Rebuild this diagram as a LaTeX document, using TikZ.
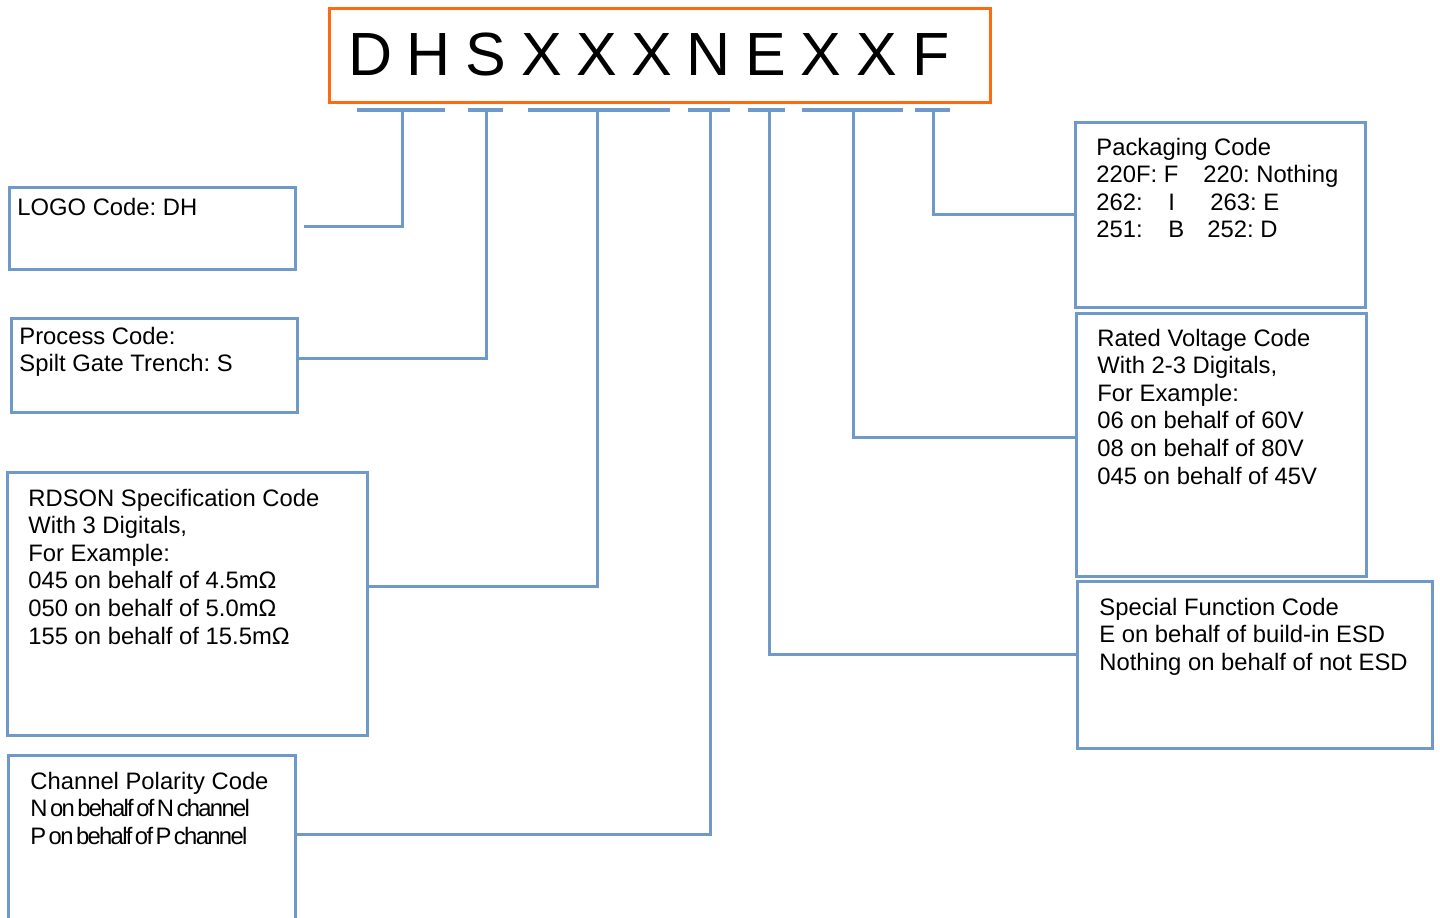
\documentclass[tikz,border=0pt]{standalone}
\usepackage{fontspec}
\setmainfont{Liberation Sans}
\newfontfamily\condfont[LetterSpace=-7,WordSpace=0.5]{Liberation Sans}
\definecolor{lineblue}{RGB}{110,153,200}
\definecolor{codeorange}{RGB}{255,105,15}
\frenchspacing
\begin{document}
\begin{tikzpicture}[x=0.5pt,y=-0.5pt,
  box/.style={draw=lineblue,line width=1.5pt,anchor=north west,inner sep=0pt,fill=none},
  conn/.style={draw=lineblue,line width=1.5pt},
  seg/.style={draw=lineblue,line width=1.6pt},
  txt/.style={anchor=base west,align=left,inner sep=0pt,font=\fontsize{11.9pt}{13.8pt}\selectfont},
  letter/.style={anchor=base,inner sep=0pt,font=\fontsize{30.5pt}{36pt}\selectfont}]
\useasboundingbox (0,0) rectangle (1440,917);

% code box
\node[draw=codeorange,line width=1.5pt,anchor=north west,inner sep=0pt,minimum width=330.5pt,minimum height=47pt] (code) at (328,7) {};
\foreach \ch/\x [count=\i] in {D/371,H/429,S/486,X/542,X/597,X/652,N/709,E/766,X/821,X/877,F/931}
  \node[letter] (L\i) at (\x,75) {\ch};

% segments
\coordinate (s1) at (402,110); \draw[seg] (357,110) -- (445,110);
\coordinate (s2) at (486,110); \draw[seg] (468,110) -- (503,110);
\coordinate (s3) at (597,110); \draw[seg] (528,110) -- (670,110);
\coordinate (s4) at (710,110); \draw[seg] (688,110) -- (730,110);
\coordinate (s5) at (769,110); \draw[seg] (748,110) -- (785,110);
\coordinate (s6) at (853,110); \draw[seg] (802,110) -- (903,110);
\coordinate (s7) at (933,110); \draw[seg] (915,110) -- (950,110);

% boxes
\node[box,minimum width=143pt,minimum height=41pt] (logo) at (8,186) {};
\node[box,minimum width=143pt,minimum height=47pt] (process) at (10,317) {};
\node[box,minimum width=180pt,minimum height=131.5pt] (rdson) at (6,471) {};
\node[box,minimum width=145pt,minimum height=92.5pt] (pack) at (1074,121) {};
\node[box,minimum width=145pt,minimum height=131.5pt] (rated) at (1075,312) {};
\node[box,minimum width=177.5pt,minimum height=83.5pt] (special) at (1076,580) {};
\coordinate (chan) at (295,834);
\draw[conn] (8,920) -- (8,755) -- (295,755) -- (295,920);

% texts (anchor = baseline of the last line)
\node[txt] (tlogo) at (17,215) {LOGO Code: DH};
\node[txt] (tproc) at (19,371.6) {Process Code:\\Spilt Gate Trench: S};
\node[txt] (trds) at (28,644) {RDSON Specification Code\\With 3 Digitals,\\For Example:\\045 on behalf of 4.5mΩ\\050 on behalf of 5.0mΩ\\155 on behalf of 15.5mΩ};
\node[txt] (tchan) at (30,844.2) {Channel Polarity Code\\{\condfont N on behalf of N channel}\\{\condfont P on behalf of P channel}};
\node[txt] (tpack) at (1096,237.8) {Packaging Code\\\makebox[53.5pt][l]{220F: F}220: Nothing\\\makebox[36pt][l]{262:}\makebox[21pt][l]{I}263: E\\\makebox[36pt][l]{251:}\makebox[19.5pt][l]{B}252: D};
\node[txt] (trated) at (1097,484) {Rated Voltage Code\\With 2-3 Digitals,\\For Example:\\06 on behalf of 60V\\08 on behalf of 80V\\045 on behalf of 45V};
\node[txt] (tspec) at (1099,670.2) {Special Function Code\\E on behalf of build-in ESD\\Nothing on behalf of not ESD};

% connectors
\draw[conn] (s1) |- ([xshift=3.5pt]logo.east |- 0,226);
\draw[conn] (s2) |- (process.east |- 0,358);
\draw[conn] (s3) |- (rdson.east |- 0,586);
\draw[conn] (s4) |- ([xshift=1pt]chan);
\draw[conn] (s5) |- (special.west |- 0,654);
\draw[conn] (s6) |- (rated.west |- 0,437);
\draw[conn] (s7) |- (pack.west |- 0,214);
\end{tikzpicture}
\end{document}
